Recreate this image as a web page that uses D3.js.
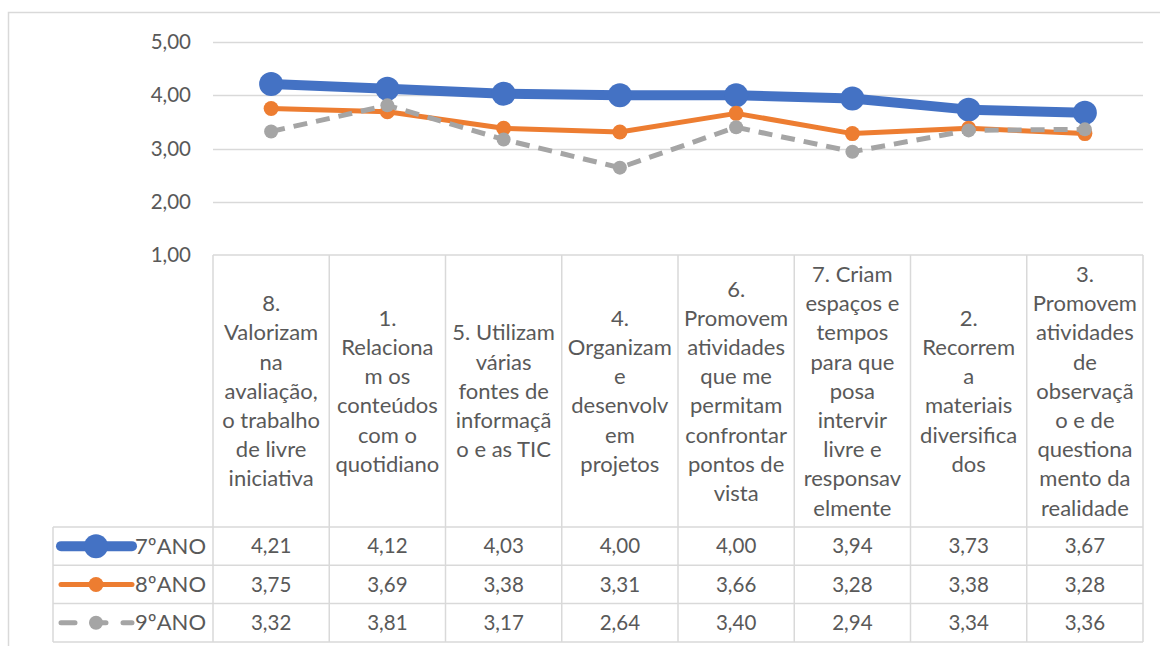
<!DOCTYPE html>
<html>
<head>
<meta charset="utf-8">
<script src="https://cdn.jsdelivr.net/npm/d3@7"></script>
<style>
  body { margin: 0; background: #fff; }
  text { font-family: Lato, "Open Sans", sans-serif; fill: #595959; }
</style>
</head>
<body>
<script>
var width = 1160;
var height = 646;

// categories, already wrapped as in the original table header
var categories = [
  ["8.", "Valorizam", "na", "avaliação,", "o trabalho", "de livre", "iniciativa"],
  ["1.", "Relaciona", "m os", "conteúdos", "com o", "quotidiano"],
  ["5. Utilizam", "várias", "fontes de", "informaçã", "o e as TIC"],
  ["4.", "Organizam", "e", "desenvolv", "em", "projetos"],
  ["6.", "Promovem", "atividades", "que me", "permitam", "confrontar", "pontos de", "vista"],
  ["7. Criam", "espaços e", "tempos", "para que", "posa", "intervir", "livre e", "responsav", "elmente"],
  ["2.", "Recorrem", "a", "materiais", "diversifica", "dos"],
  ["3.", "Promovem", "atividades", "de", "observaçã", "o e de", "questiona", "mento da", "realidade"]
];

var seriesNames = ["7ºANO", "8ºANO", "9ºANO"];
var ano7 = [4.21, 4.12, 4.03, 4.00, 4.00, 3.94, 3.73, 3.67];
var ano8 = [3.75, 3.69, 3.38, 3.31, 3.66, 3.28, 3.38, 3.28];
var ano9 = [3.32, 3.81, 3.17, 2.64, 3.40, 2.94, 3.34, 3.36];
var yTicks = [1, 2, 3, 4, 5];

var seriesStyles = [
  { color: "#4472c4", width: 10, r: 12, dash: null },
  { color: "#ed7d31", width: 5, r: 7.5, dash: null },
  { color: "#a5a5a5", width: 5, r: 7, dash: "14,9" }
];
var allSeries = [ano7, ano8, ano9];

var numSize = "20.5px";
var headSize = "22px";

var svg = d3.select("body").append("svg")
  .attr("width", width)
  .attr("height", height);

// outer chart frame
svg.append("path")
  .attr("d", "M8.5," + height + "V12.5H" + width)
  .attr("fill", "none").attr("stroke", "#d9d9d9").attr("stroke-width", 1.5);

var plotLeft = 213, plotRight = 1143;
var plotTop = 42, plotBottom = 255;
var headerBottom = 527;
var rowH = 38.3;
var legendLeft = 53;

var x = d3.scaleBand()
  .domain(d3.range(categories.length))
  .range([plotLeft, plotRight]);

var y = d3.scaleLinear()
  .domain([1, 5])
  .range([plotBottom, plotTop]);

// gridlines
svg.append("g").selectAll("line").data(yTicks.slice(1)).enter().append("line")
  .attr("x1", plotLeft).attr("x2", plotRight)
  .attr("y1", function (d) { return Math.round(y(d)) + 0.5; })
  .attr("y2", function (d) { return Math.round(y(d)) + 0.5; })
  .attr("stroke", "#d9d9d9").attr("stroke-width", 1.5);

// y axis labels
var fmt = function (v) { return d3.format(".2f")(v).replace(".", ","); };
svg.append("g").selectAll("text").data(yTicks).enter().append("text")
  .attr("x", 191)
  .attr("y", function (d) { return y(d); })
  .attr("dy", "0.35em")
  .attr("text-anchor", "end")
  .style("font-size", numSize)
  .text(fmt);

// data table grid
var grid = svg.append("g").attr("stroke", "#d9d9d9").attr("stroke-width", 1.5).attr("fill", "none");
var tableBottom = headerBottom + rowH * 3;
grid.append("line").attr("x1", plotLeft).attr("x2", plotRight).attr("y1", plotBottom).attr("y2", plotBottom);
d3.range(4).forEach(function (i) {
  var yy = headerBottom + rowH * i;
  grid.append("line").attr("x1", legendLeft).attr("x2", plotRight).attr("y1", yy).attr("y2", yy);
});
d3.range(categories.length + 1).forEach(function (i) {
  var xx = plotLeft + x.step() * i;
  grid.append("line").attr("x1", xx).attr("x2", xx).attr("y1", plotBottom).attr("y2", tableBottom);
});
grid.append("line").attr("x1", legendLeft).attr("x2", legendLeft).attr("y1", headerBottom).attr("y2", tableBottom);

// header text
var lineH = 29.2;
var headerMid = (plotBottom + headerBottom) / 2;
var headers = svg.append("g").selectAll("text").data(categories).enter().append("text")
  .attr("text-anchor", "middle")
  .style("font-size", headSize);
headers.each(function (lines, i) {
  var t = d3.select(this);
  var top = headerMid - (lines.length - 1) * lineH / 2;
  lines.forEach(function (l, j) {
    t.append("tspan")
      .attr("x", x(i) + x.bandwidth() / 2)
      .attr("y", top + j * lineH)
      .attr("dy", "0.35em")
      .text(l);
  });
});

// value cells
allSeries.forEach(function (vals, s) {
  var cy = headerBottom + rowH * s + rowH / 2;
  svg.append("g").selectAll("text").data(vals).enter().append("text")
    .attr("x", function (d, i) { return x(i) + x.bandwidth() / 2; })
    .attr("y", cy)
    .attr("dy", "0.35em")
    .attr("text-anchor", "middle")
    .style("font-size", numSize)
    .text(fmt);

  // legend key
  var st = seriesStyles[s];
  var key = svg.append("g");
  key.append("line")
    .attr("x1", 61).attr("x2", 132).attr("y1", cy).attr("y2", cy)
    .attr("stroke", st.color).attr("stroke-width", st.width)
    .attr("stroke-linecap", "round")
    .attr("stroke-dasharray", st.dash ? "14,17" : null);
  key.append("circle").attr("cx", 96).attr("cy", cy).attr("r", st.r)
    .attr("fill", st.color);
  key.append("text").attr("x", 206).attr("y", cy).attr("dy", "0.35em")
    .attr("text-anchor", "end").style("font-size", headSize)
    .text(seriesNames[s]);
});

// lines, drawn in series order (later series on top)
var line = d3.line()
  .x(function (d, i) { return x(i) + x.bandwidth() / 2; })
  .y(function (d) { return y(d); });

allSeries.forEach(function (vals, s) {
  var st = seriesStyles[s];
  var g = svg.append("g");
  g.append("path").datum(vals)
    .attr("d", line)
    .attr("fill", "none")
    .attr("stroke", st.color)
    .attr("stroke-width", st.width)
    .attr("stroke-linejoin", "round")
    .attr("stroke-dasharray", st.dash);
  g.selectAll("circle").data(vals).enter().append("circle")
    .attr("cx", function (d, i) { return x(i) + x.bandwidth() / 2; })
    .attr("cy", function (d) { return y(d); })
    .attr("r", st.r)
    .attr("fill", st.color);
});
</script>
</body>
</html>
